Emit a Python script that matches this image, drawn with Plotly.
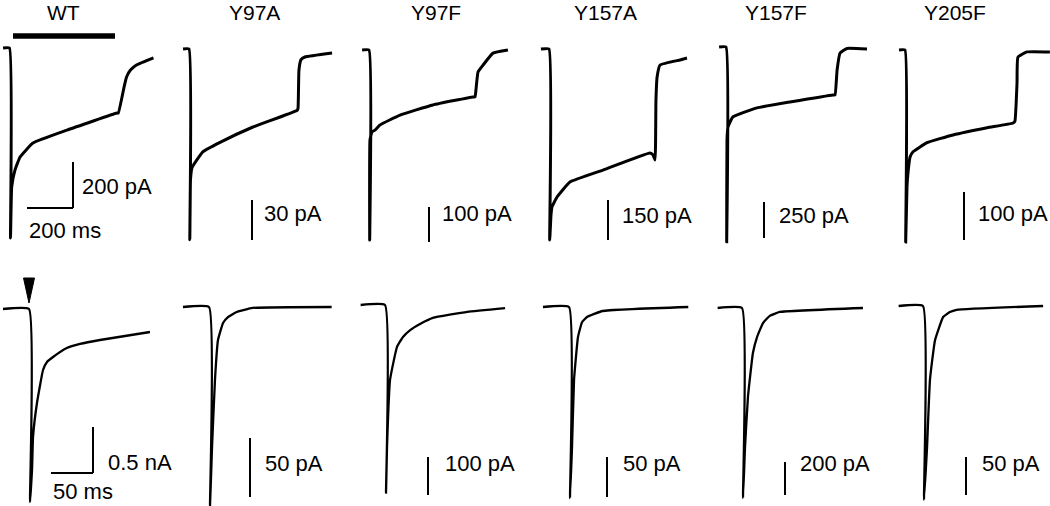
import plotly.graph_objects as go

# ---------------- data ----------------
mutants = ["WT", "Y97A", "Y97F", "Y157A", "Y157F", "Y205F"]

# Top row: long glutamate application. time (ms) from onset, current (pA)
wt_long_t = [-28, 0, 4.3, 9.6, 24, 46, 102, 250, 467, 473, 500, 509, 526, 552, 626]
wt_long_i = [0, 0, -826, -604, -530, -474, -413, -357, -283, -283, -161, -126, -96, -74, -43]
y97a_long_t = [-26, 0, 3.5, 6.5, 13, 35, 61, 135, 278, 470, 474, 478, 487, 504, 622]
y97a_long_i = [0, 0, -143, -98, -89, -83, -77, -70, -58.5, -46, -44.5, -16, -8, -6, -3]
y97f_long_t = [-30, 0, 3, 4.3, 13, 26, 48, 135, 278, 452, 461, 465, 474, 496, 539, 604]
y97f_long_i = [0, 0, -543, -257, -234, -229, -214, -186, -157, -134, -134, -114, -63, -43, -9, 0]
y157a_long_t = [-35, 0, 3, 8.7, 13, 35, 91, 235, 439, 452, 461, 465, 470, 483, 570, 600]
y157a_long_i = [0, 0, -716, -622, -592, -555, -499, -454, -390, -397, -416, -191, -105, -60, -41, -34]
y157f_long_t = [-30, 0, 3, 4.3, 8.7, 30, 135, 278, 465, 474, 483, 496, 526, 613]
y157f_long_i = [0, 0, -1353, -645, -555, -486, -423, -382, -333, -333, -160, -42, -10, -14]
y205f_long_t = [-26, 0, 3, 8.7, 13, 22, 35, 96, 209, 357, 470, 478, 487, 491, 530, 630]
y205f_long_i = [0, 0, -400, -285, -256, -223, -212, -193, -177, -162, -152, -148, -69, -15, -4, -4]

# Bottom row: brief pulse (arrowhead). time (ms) from onset, current (pA)
wt_fast_t = [-31, 0, 1.2, 3.6, 4.8, 9.5, 16.7, 21.4, 28.6, 45, 60.7, 84.5, 144]
wt_fast_i = [0, 0, -2098, -1750, -1391, -1022, -663, -576, -522, -424, -380, -337, -250]
y97a_fast_t = [-31, 0, 1.2, 3.6, 7.1, 10.7, 16.7, 22.6, 33, 52, 146]
y97a_fast_i = [0, 0, -168, -119, -62, -28, -13.5, -8.5, -4.2, -0.8, 0]
y97f_fast_t = [-29, 0, 1.2, 2.4, 6, 14.3, 21.4, 30, 41.7, 57, 98, 143]
y97f_fast_i = [0, 0, -494, -373, -197, -110, -84, -66, -50, -34, -18, -8]
y157a_fast_t = [-31, 0, 1.2, 3.6, 6, 10.7, 15.5, 21.4, 40, 142]
y157a_fast_i = [0, 0, -239, -175, -91, -37.5, -19, -12.5, -5, 0]
y157f_fast_t = [-29, 0, 1.2, 3.6, 7.1, 13, 17.9, 25, 33, 45, 144]
y157f_fast_i = [0, 0, -1151, -842, -539, -273, -176, -91, -48, -24, 0]
y205f_fast_t = [-29, 0, 1.2, 4.8, 8.3, 14.3, 24, 32, 40, 143]
y205f_fast_i = [0, 0, -255, -186, -97, -45, -14.5, -8, -5, 0]

long_t = [wt_long_t, y97a_long_t, y97f_long_t, y157a_long_t, y157f_long_t, y205f_long_t]
long_i = [wt_long_i, y97a_long_i, y97f_long_i, y157a_long_i, y157f_long_i, y205f_long_i]
fast_t = [wt_fast_t, y97a_fast_t, y97f_fast_t, y157a_fast_t, y157f_fast_t, y205f_fast_t]
fast_i = [wt_fast_i, y97a_fast_i, y97f_fast_i, y157a_fast_i, y157f_fast_i, y205f_fast_i]

# scale bars
top_scale_pA = [200, 30, 100, 150, 250, 100]
top_scale_lbl = ["200 pA", "30 pA", "100 pA", "150 pA", "250 pA", "100 pA"]
bot_scale_pA = [500, 50, 100, 50, 200, 50]
bot_scale_lbl = ["0.5 nA", "50 pA", "100 pA", "50 pA", "200 pA", "50 pA"]
top_time_ms, top_time_lbl = 200, "200 ms"
bot_time_ms, bot_time_lbl = 50, "50 ms"

# ---------------- layout (pixel geometry) ----------------
W, H = 1050, 506
top_x0 = [9.5, 189, 369, 549, 726, 905]      # onset pixel x
top_y0 = [48, 49, 50, 49, 47, 50]            # baseline pixel y
bot_x0 = [29, 209, 385, 569, 742, 923]
bot_y0 = [309, 307, 305, 307, 308, 306]
top_bar_px = [46, 40, 35, 40, 36, 48]        # vertical scale bar length (px)
bot_bar_px = [46, 59, 38, 40, 33, 38]
top_ms_px = 200 / 46
bot_ms_px = 50 / 42
top_bar_x = [73, 252, 429, 608, 764, 964]
top_bar_yb = [208, 240, 242, 240, 238, 240]
bot_bar_x = [93, 250, 428, 607, 785, 966]
bot_bar_yb = [473, 497, 495, 497, 495, 495]
top_lbl_xy = [(80, 186), (262, 213), (440, 213), (620, 215), (777, 215), (976, 213)]
bot_lbl_xy = [(106, 462), (263, 463), (443, 463), (621, 463), (798, 463), (980, 463)]
title_x = [63, 254, 436, 605, 776, 955]
title_y = 13
top_band = (25, 256)
bot_band = (262, 506)
FONT = "Liberation Sans, Arial, sans-serif"
FS_TITLE = 21
FS_LBL = 22

fig = go.Figure()
layout = {}
annotations = []
shapes = []


def px2paper(x, y):
    return x / W, 1 - y / H


panels = []
for c in range(6):
    panels.append(dict(t=long_t[c], i=long_i[c], x0=top_x0[c], y0=top_y0[c],
                       mspp=top_ms_px, papp=top_scale_pA[c] / top_bar_px[c],
                       band=top_band, bar_x=top_bar_x[c], bar_yb=top_bar_yb[c],
                       bar_v=top_scale_pA[c], lbl=top_scale_lbl[c], lbl_xy=top_lbl_xy[c],
                       lw=3.0, row=0, col=c))
for c in range(6):
    panels.append(dict(t=fast_t[c], i=fast_i[c], x0=bot_x0[c], y0=bot_y0[c],
                       mspp=bot_ms_px, papp=bot_scale_pA[c] / bot_bar_px[c],
                       band=bot_band, bar_x=bot_bar_x[c], bar_yb=bot_bar_yb[c],
                       bar_v=bot_scale_pA[c], lbl=bot_scale_lbl[c], lbl_xy=bot_lbl_xy[c],
                       lw=2.3, row=1, col=c))

for k, p in enumerate(panels):
    n = k + 1
    xa, ya = f"x{n}", f"y{n}"
    xl = max(0, p["x0"] - 35)
    xr = min(W, p["x0"] + 165)
    yt, yb = p["band"]
    xr_data = [(xl - p["x0"]) * p["mspp"], (xr - p["x0"]) * p["mspp"]]
    yr_data = [(p["y0"] - yb) * p["papp"], (p["y0"] - yt) * p["papp"]]
    layout[f"xaxis{n}"] = dict(domain=[xl / W, xr / W], range=xr_data, visible=False,
                               anchor=ya, fixedrange=True)
    layout[f"yaxis{n}"] = dict(domain=[1 - yb / H, 1 - yt / H], range=yr_data, visible=False,
                               anchor=xa, fixedrange=True)
    # trace
    fig.add_trace(go.Scatter(x=p["t"], y=p["i"], mode="lines", xaxis=xa, yaxis=ya,
                             line=dict(color="black", width=p["lw"], shape="spline", smoothing=0.35),
                             showlegend=False, hoverinfo="skip"))
    # vertical scale bar
    bt = (p["bar_x"] - p["x0"]) * p["mspp"]
    bb = (p["y0"] - p["bar_yb"]) * p["papp"]
    fig.add_trace(go.Scatter(x=[bt, bt], y=[bb, bb + p["bar_v"]], mode="lines",
                             xaxis=xa, yaxis=ya, line=dict(color="black", width=2),
                             showlegend=False, hoverinfo="skip"))
    if p["col"] == 0:
        tms = top_time_ms if p["row"] == 0 else bot_time_ms
        fig.add_trace(go.Scatter(x=[bt - tms, bt], y=[bb, bb], mode="lines",
                                 xaxis=xa, yaxis=ya, line=dict(color="black", width=2),
                                 showlegend=False, hoverinfo="skip"))
        tl = top_time_lbl if p["row"] == 0 else bot_time_lbl
        lx = p["bar_x"] - tms / p["mspp"]
        ly = p["bar_yb"] + 22 if p["row"] == 0 else p["bar_yb"] + 18
        ax_, ay_ = px2paper(lx, ly)
        annotations.append(dict(text=tl, x=ax_, y=ay_, xref="paper", yref="paper",
                                xanchor="left", yanchor="middle", showarrow=False,
                                font=dict(family=FONT, size=FS_LBL, color="black")))
        if p["row"] == 0:
            # agonist application bar
            a0 = (13 - p["x0"]) * p["mspp"]
            a1 = (115 - p["x0"]) * p["mspp"]
            ay = (p["y0"] - 36) * p["papp"]
            fig.add_trace(go.Scatter(x=[a0, a1], y=[ay, ay], mode="lines", xaxis=xa, yaxis=ya,
                                     line=dict(color="black", width=5.5),
                                     showlegend=False, hoverinfo="skip"))
        else:
            # stimulus arrowhead
            shapes.append(dict(type="path", xref=xa, yref=ya, xsizemode="pixel",
                               ysizemode="pixel", xanchor=0, yanchor=0,
                               path="M -5.5,31 L 5.5,31 L 0,6 Z",
                               fillcolor="black", line=dict(color="black", width=1)))
    lx, ly = p["lbl_xy"]
    ax_, ay_ = px2paper(lx, ly)
    annotations.append(dict(text=p["lbl"], x=ax_, y=ay_, xref="paper", yref="paper",
                            xanchor="left", yanchor="middle", showarrow=False,
                            font=dict(family=FONT, size=FS_LBL, color="black")))

for c, name in enumerate(mutants):
    ax_, ay_ = px2paper(title_x[c], title_y)
    annotations.append(dict(text=name, x=ax_, y=ay_, xref="paper", yref="paper",
                            xanchor="center", yanchor="middle", showarrow=False,
                            font=dict(family=FONT, size=FS_TITLE, color="black")))

fig.update_layout(width=W, height=H, margin=dict(l=0, r=0, t=0, b=0),
                  paper_bgcolor="white", plot_bgcolor="rgba(0,0,0,0)",
                  annotations=annotations, shapes=shapes, **layout)
fig.write_html("out.html", config={"displayModeBar": False, "staticPlot": True},
               post_script="document.body.style.margin='0';document.body.style.overflow='hidden';")
